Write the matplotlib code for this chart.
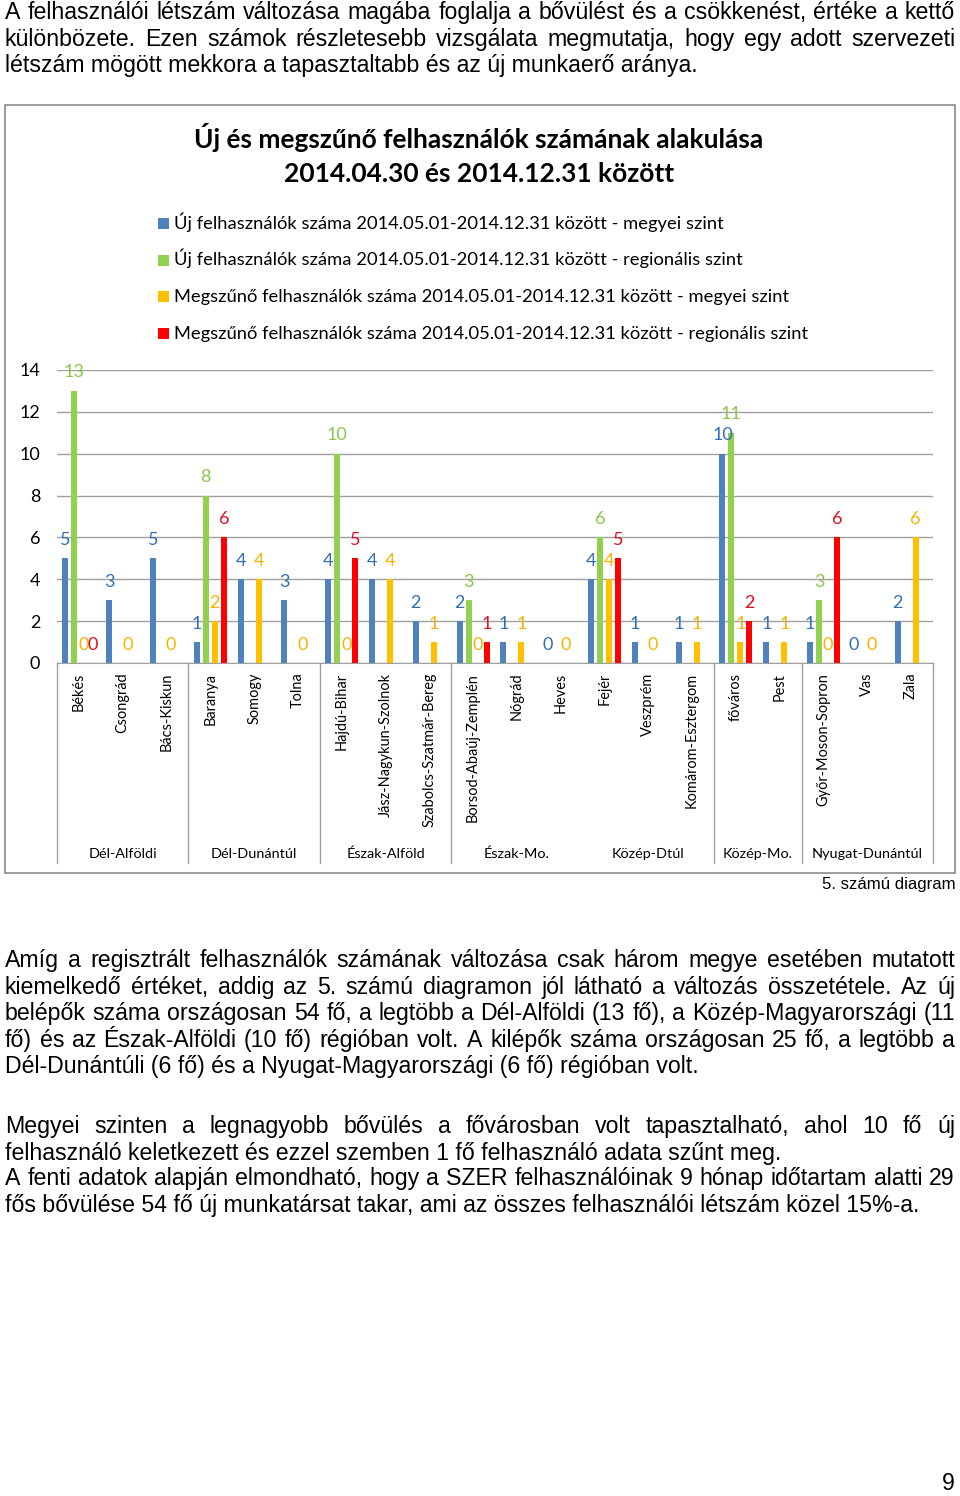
import numpy as np
import matplotlib
matplotlib.use('Agg')
import matplotlib.pyplot as plt
import matplotlib.transforms as mtransforms
from matplotlib.patches import Rectangle
from matplotlib.lines import Line2D

############# Data ########################################
nan = np.nan
regions = ['Dél-Alföldi', 'Dél-Dunántúl', 'Észak-Alföld', 'Észak-Mo.', 'Közép-Dtúl', 'Közép-Mo.', 'Nyugat-Dunántúl']
region_sizes = [3, 3, 3, 3, 3, 2, 3]
counties = ['Békés', 'Csongrád', 'Bács-Kiskun',
            'Baranya', 'Somogy', 'Tolna',
            'Hajdú-Bihar', 'Jász-Nagykun-Szolnok', 'Szabolcs-Szatmár-Bereg',
            'Borsod-Abaúj-Zemplén', 'Nógrád', 'Heves',
            'Fejér', 'Veszprém', 'Komárom-Esztergom',
            'főváros', 'Pest',
            'Győr-Moson-Sopron', 'Vas', 'Zala']
uj_megyei = [5, 3, 5, 1, 4, 3, 4, 4, 2, 2, 1, 0, 4, 1, 1, 10, 1, 1, 0, 2]
uj_regionalis = [13, nan, nan, 8, nan, nan, 10, nan, nan, 3, nan, nan, 6, nan, nan, 11, nan, 3, nan, nan]
megsz_megyei = [0, 0, 0, 2, 4, 0, 0, 4, 1, 0, 1, 0, 4, 0, 1, 1, 1, 0, 0, 6]
megsz_regionalis = [0, nan, nan, 6, nan, nan, 5, nan, nan, 1, nan, nan, 5, nan, nan, 2, nan, 6, nan, nan]
# the Excel sheet has no separator between Észak-Mo. and Közép-Dtúl
separators = [0, 3, 6, 9, 15, 17, 20]

series_names = ['Új felhasználók száma 2014.05.01-2014.12.31 között - megyei szint',
                'Új felhasználók száma 2014.05.01-2014.12.31 között - regionális szint',
                'Megszűnő felhasználók száma 2014.05.01-2014.12.31 között - megyei szint',
                'Megszűnő felhasználók száma 2014.05.01-2014.12.31 között - regionális szint']
bar_colors = ['#4F81BD', '#92D050', '#FFC000', '#FF0000']
label_colors = ['#2F6FB3', '#8CC64A', '#F5B400', '#E01020']

chart_title = ['Új és megszűnő felhasználók számának alakulása', '2014.04.30 és 2014.12.31 között']

text_top = ['A felhasználói létszám változása magába foglalja a bővülést és a csökkenést, értéke a kettő',
            'különbözete. Ezen számok részletesebb vizsgálata megmutatja, hogy egy adott szervezeti',
            'létszám mögött mekkora a tapasztaltabb és az új munkaerő aránya.']
text_mid = ['Amíg a regisztrált felhasználók számának változása csak három megye esetében mutatott',
            'kiemelkedő értéket, addig az 5. számú diagramon jól látható a változás összetétele. Az új',
            'belépők száma országosan 54 fő, a legtöbb a Dél-Alföldi (13 fő), a Közép-Magyarországi (11',
            'fő) és az Észak-Alföldi (10 fő) régióban volt. A kilépők száma országosan 25 fő, a legtöbb a',
            'Dél-Dunántúli (6 fő) és a Nyugat-Magyarországi (6 fő) régióban volt.']
text_low = ['Megyei szinten a legnagyobb bővülés a fővárosban volt tapasztalható, ahol 10 fő új',
            'felhasználó keletkezett és ezzel szemben 1 fő felhasználó adata szűnt meg.',
            'A fenti adatok alapján elmondható, hogy a SZER felhasználóinak 9 hónap időtartam alatti 29',
            'fős bővülése 54 fő új munkatársat takar, ami az összes felhasználói létszám közel 15%-a.']

############# Page setup ####################
W, H = 960, 1496
fig = plt.figure(figsize=(W / 100, H / 100), dpi=100)
renderer = fig.canvas.get_renderer()
BODY = 'Liberation Sans'
CHART = 'Lato'


def fx(x):
    return x / W


def fy(y):
    return 1 - y / H


def text_w(s, size, **kw):
    t = fig.text(0, 0, s, fontsize=size, **kw)
    w = t.get_window_extent(renderer).width
    t.remove()
    return w


def fit_size(s, target, **kw):
    return 20 * target / text_w(s, 20, **kw)


X0, X1 = 5, 955
body_size = fit_size(text_top[2], 692, family=BODY)


def put_line(s, ybase, justify):
    if not justify:
        fig.text(fx(X0), fy(ybase), s, fontsize=body_size, family=BODY, va='baseline', ha='left')
        return
    words = s.split(' ')
    ws = [text_w(w, body_size, family=BODY) for w in words]
    gap = (X1 - X0 - sum(ws)) / (len(words) - 1)
    x = X0
    for w, wd in zip(words, ws):
        fig.text(fx(x), fy(ybase), w, fontsize=body_size, family=BODY, va='baseline', ha='left')
        x += wd + gap


def put_block(lines, y_first, pitch, left_rows=()):
    for i, s in enumerate(lines):
        put_line(s, y_first + i * pitch, i not in left_rows)


put_block(text_top, 19, 26.6, left_rows=(2,))
put_block(text_mid, 967, 26.6, left_rows=(4,))
put_block(text_low[:2], 1133, 26.6, left_rows=(1,))
put_block(text_low[2:], 1185, 26.6, left_rows=(1,))

fig.text(fx(956), fy(889), '5. számú diagram', fontsize=fit_size('5. számú diagram', 133, family=BODY),
         family=BODY, ha='right', va='baseline')
fig.text(fx(955), fy(1490), '9', fontsize=body_size, family=BODY, ha='right', va='baseline')

############# Chart frame, title, legend ####################
fig.add_artist(Rectangle((fx(5), fy(873)), fx(950), (873 - 105) / H, transform=fig.transFigure,
                         fill=False, edgecolor='#8C8C8C', linewidth=1.2))

title_size = fit_size(chart_title[0], 570, family=CHART, weight='bold')
fig.text(fx(479), fy(147.5), chart_title[0], fontsize=title_size, family=CHART, weight='bold',
         ha='center', va='baseline')
fig.text(fx(479), fy(182), chart_title[1], fontsize=title_size, family=CHART, weight='bold',
         ha='center', va='baseline')

leg_size = fit_size(series_names[0], 548, family=CHART)
for i, name in enumerate(series_names):
    yb = 229 + i * 36.5
    fig.add_artist(Rectangle((fx(158), fy(yb)), 10.5 / W, 10.5 / H, transform=fig.transFigure,
                             facecolor=bar_colors[i], edgecolor='none'))
    fig.text(fx(174), fy(yb), name, fontsize=leg_size, family=CHART, ha='left', va='baseline')

############# Bars ####################
n = len(counties)
ax = fig.add_axes([fx(57), fy(663), (933 - 57) / W, (663 - 370) / H])
ax.set_xlim(0, n)
ax.set_ylim(0, 14)
centers = np.arange(n) + 0.5
offsets = [-0.308, -0.103, 0.103, 0.308]
all_series = [uj_megyei, uj_regionalis, megsz_megyei, megsz_regionalis]
for s, vals in enumerate(all_series):
    vals = np.array(vals, dtype=float)
    ax.bar(centers + offsets[s], np.nan_to_num(vals), width=0.137, color=bar_colors[s], zorder=3)
    for xi, v in zip(centers + offsets[s], vals):
        if np.isnan(v):
            continue
        ax.annotate('%d' % v, (xi, v), xytext=(0, 9.7), textcoords='offset points',
                    ha='center', va='baseline', color=label_colors[s], fontsize=13, family=CHART,
                    zorder=4)

ax.set_yticks(range(0, 15, 2))
ax.set_yticklabels([str(v) for v in range(0, 15, 2)], fontsize=13, family=CHART)
ax.yaxis.grid(True, color='#A0A0A0', linewidth=1.0)
ax.set_axisbelow(True)
ax.tick_params(axis='y', length=0, pad=12, colors='#000000')
ax.set_xticks(centers)
ax.set_xticklabels(counties, rotation=90, fontsize=fit_size('Jász-Nagykun-Szolnok', 144, family=CHART),
                   family=CHART)
ax.tick_params(axis='x', length=0, pad=7)
for side in ['top', 'left', 'right']:
    ax.spines[side].set_visible(False)
ax.spines['bottom'].set_color('#A0A0A0')
ax.patch.set_alpha(0)

############# Region level of the category axis ####################
blend = mtransforms.blended_transform_factory(ax.transData, fig.transFigure)
for b in separators:
    fig.add_artist(Line2D([b, b], [fy(663), fy(863)], transform=blend, color='#A0A0A0', linewidth=1.0))
reg_size = fit_size('Dél-Alföldi', 69, family=CHART)
start = 0
for name, k in zip(regions, region_sizes):
    fig.text(start + k / 2, fy(857.5), name, transform=blend, fontsize=reg_size, family=CHART,
             ha='center', va='baseline')
    start += k

fig.savefig('out.png', dpi=100)
